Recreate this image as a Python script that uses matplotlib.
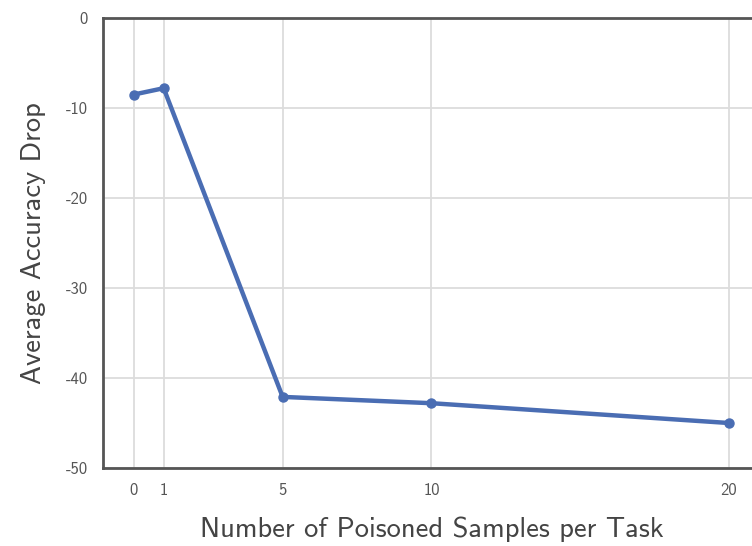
import numpy as np
import matplotlib.pyplot as plt

plt.rcParams["font.family"] = ["cmss10", "DejaVu Sans"]
plt.rcParams["axes.unicode_minus"] = False

samples = [0, 1, 5, 10, 20]
acc_drop = [-8.5, -7.8, -42.1, -42.8, -45.0]
yticks = [0, -10, -20, -30, -40, -50]

fig = plt.figure(figsize=(7.52, 5.46), dpi=100)
ax = fig.add_axes([103/752, 1 - 468/546, 657/752, 450/546])

ax.plot(samples, acc_drop, color="#4a6db3", linewidth=3.2, marker="o", markersize=6.5)

ax.set_xlim(-1.04, 21.05)
ax.set_ylim(-50, 0)
ax.set_xticks(samples)
ax.set_yticks(yticks)
ax.grid(True, color="#dcdcdc", linewidth=1.3)
ax.set_axisbelow(True)
ax.tick_params(length=0, labelsize=12, labelcolor="#555555", pad=11)

for side in ["left", "top", "bottom"]:
    ax.spines[side].set_color("#555555")
    ax.spines[side].set_linewidth(2)
ax.spines["right"].set_visible(False)

ax.set_xlabel("Number of Poisoned Samples per Task", fontsize=20.5, color="#444444", labelpad=13)
ax.set_ylabel("Average Accuracy Drop", fontsize=20.5, color="#444444", labelpad=14)

fig.savefig("out.png", dpi=100)
